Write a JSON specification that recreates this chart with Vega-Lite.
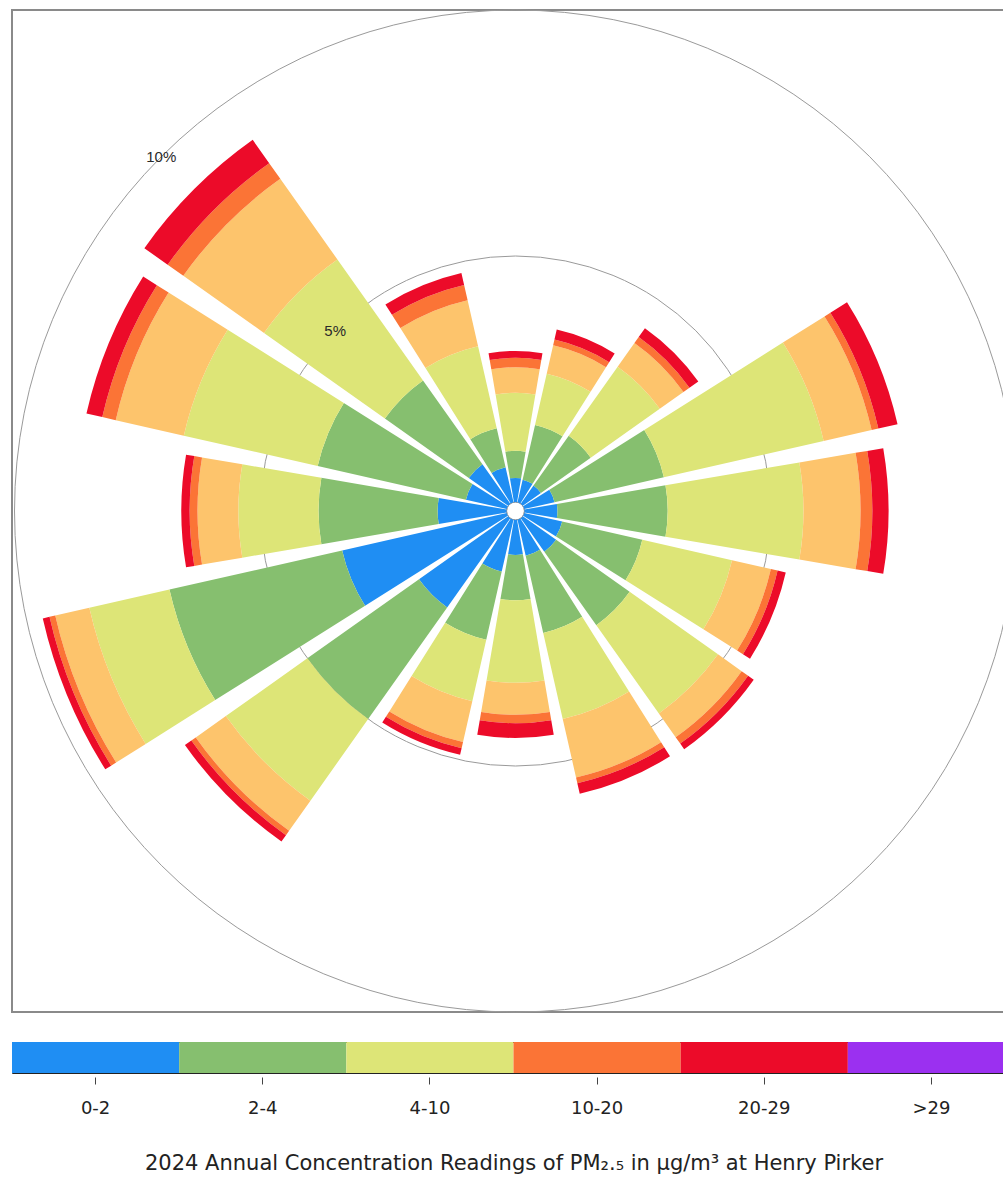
{
  "$schema": "https://vega.github.io/schema/vega-lite/v6.json",
  "padding": {"left": 11, "top": 7, "right": 0, "bottom": 0},
  "background": "white",
  "config": {"font": "Liberation Sans", "view": {"stroke": null}},
  "resolve": {"scale": {"color": "independent"}},
  "spacing": 26,
  "datasets": {
    "rose": [
      {"dir": "N", "deg": 0, "band": "0-2", "pct": 0.49}, {"dir": "N", "deg": 0, "band": "2-4", "pct": 0.55}, {"dir": "N", "deg": 0, "band": "4-10", "pct": 1.18}, {"dir": "N", "deg": 0, "band": "10-20", "pct": 0.52}, {"dir": "N", "deg": 0, "band": "20-29", "pct": 0.19}, {"dir": "N", "deg": 0, "band": ">29", "pct": 0.14},
      {"dir": "NNE", "deg": 22.5, "band": "0-2", "pct": 0.47}, {"dir": "NNE", "deg": 22.5, "band": "2-4", "pct": 1.14}, {"dir": "NNE", "deg": 22.5, "band": "4-10", "pct": 1.07}, {"dir": "NNE", "deg": 22.5, "band": "10-20", "pct": 0.59}, {"dir": "NNE", "deg": 22.5, "band": "20-29", "pct": 0.12}, {"dir": "NNE", "deg": 22.5, "band": ">29", "pct": 0.21},
      {"dir": "NE", "deg": 45, "band": "0-2", "pct": 0.45}, {"dir": "NE", "deg": 45, "band": "2-4", "pct": 1.24}, {"dir": "NE", "deg": 45, "band": "4-10", "pct": 1.72}, {"dir": "NE", "deg": 45, "band": "10-20", "pct": 0.59}, {"dir": "NE", "deg": 45, "band": "20-29", "pct": 0.15}, {"dir": "NE", "deg": 45, "band": ">29", "pct": 0.22},
      {"dir": "ENE", "deg": 67.5, "band": "0-2", "pct": 0.63}, {"dir": "ENE", "deg": 67.5, "band": "2-4", "pct": 2.28}, {"dir": "ENE", "deg": 67.5, "band": "4-10", "pct": 3.33}, {"dir": "ENE", "deg": 67.5, "band": "10-20", "pct": 1.00}, {"dir": "ENE", "deg": 67.5, "band": "20-29", "pct": 0.14}, {"dir": "ENE", "deg": 67.5, "band": ">29", "pct": 0.40},
      {"dir": "E", "deg": 90, "band": "0-2", "pct": 0.67}, {"dir": "E", "deg": 90, "band": "2-4", "pct": 2.24}, {"dir": "E", "deg": 90, "band": "4-10", "pct": 2.76}, {"dir": "E", "deg": 90, "band": "10-20", "pct": 1.16}, {"dir": "E", "deg": 90, "band": "20-29", "pct": 0.24}, {"dir": "E", "deg": 90, "band": ">29", "pct": 0.33},
      {"dir": "ESE", "deg": 112.5, "band": "0-2", "pct": 0.79}, {"dir": "ESE", "deg": 112.5, "band": "2-4", "pct": 1.67}, {"dir": "ESE", "deg": 112.5, "band": "4-10", "pct": 1.87}, {"dir": "ESE", "deg": 112.5, "band": "10-20", "pct": 0.81}, {"dir": "ESE", "deg": 112.5, "band": "20-29", "pct": 0.14}, {"dir": "ESE", "deg": 112.5, "band": ">29", "pct": 0.17},
      {"dir": "SE", "deg": 135, "band": "0-2", "pct": 0.83}, {"dir": "SE", "deg": 135, "band": "2-4", "pct": 1.83}, {"dir": "SE", "deg": 135, "band": "4-10", "pct": 2.20}, {"dir": "SE", "deg": 135, "band": "10-20", "pct": 0.59}, {"dir": "SE", "deg": 135, "band": "20-29", "pct": 0.16}, {"dir": "SE", "deg": 135, "band": ">29", "pct": 0.14},
      {"dir": "SSE", "deg": 157.5, "band": "0-2", "pct": 0.75}, {"dir": "SSE", "deg": 157.5, "band": "2-4", "pct": 1.61}, {"dir": "SSE", "deg": 157.5, "band": "4-10", "pct": 1.79}, {"dir": "SSE", "deg": 157.5, "band": "10-20", "pct": 1.22}, {"dir": "SSE", "deg": 157.5, "band": "20-29", "pct": 0.12}, {"dir": "SSE", "deg": 157.5, "band": ">29", "pct": 0.22},
      {"dir": "S", "deg": 180, "band": "0-2", "pct": 0.71}, {"dir": "S", "deg": 180, "band": "2-4", "pct": 0.92}, {"dir": "S", "deg": 180, "band": "4-10", "pct": 1.68}, {"dir": "S", "deg": 180, "band": "10-20", "pct": 0.65}, {"dir": "S", "deg": 180, "band": "20-29", "pct": 0.17}, {"dir": "S", "deg": 180, "band": ">29", "pct": 0.30},
      {"dir": "SSW", "deg": 202.5, "band": "0-2", "pct": 1.08}, {"dir": "SSW", "deg": 202.5, "band": "2-4", "pct": 1.42}, {"dir": "SSW", "deg": 202.5, "band": "4-10", "pct": 1.28}, {"dir": "SSW", "deg": 202.5, "band": "10-20", "pct": 0.85}, {"dir": "SSW", "deg": 202.5, "band": "20-29", "pct": 0.13}, {"dir": "SSW", "deg": 202.5, "band": ">29", "pct": 0.14},
      {"dir": "SW", "deg": 225, "band": "0-2", "pct": 2.22}, {"dir": "SW", "deg": 225, "band": "2-4", "pct": 2.78}, {"dir": "SW", "deg": 225, "band": "4-10", "pct": 2.03}, {"dir": "SW", "deg": 225, "band": "10-20", "pct": 0.75}, {"dir": "SW", "deg": 225, "band": "20-29", "pct": 0.11}, {"dir": "SW", "deg": 225, "band": ">29", "pct": 0.16},
      {"dir": "WSW", "deg": 247.5, "band": "0-2", "pct": 3.43}, {"dir": "WSW", "deg": 247.5, "band": "2-4", "pct": 3.60}, {"dir": "WSW", "deg": 247.5, "band": "4-10", "pct": 1.67}, {"dir": "WSW", "deg": 247.5, "band": "10-20", "pct": 0.71}, {"dir": "WSW", "deg": 247.5, "band": "20-29", "pct": 0.12}, {"dir": "WSW", "deg": 247.5, "band": ">29", "pct": 0.14},
      {"dir": "W", "deg": 270, "band": "0-2", "pct": 1.40}, {"dir": "W", "deg": 270, "band": "2-4", "pct": 2.42}, {"dir": "W", "deg": 270, "band": "4-10", "pct": 1.63}, {"dir": "W", "deg": 270, "band": "10-20", "pct": 0.83}, {"dir": "W", "deg": 270, "band": "20-29", "pct": 0.16}, {"dir": "W", "deg": 270, "band": ">29", "pct": 0.17},
      {"dir": "WNW", "deg": 292.5, "band": "0-2", "pct": 0.85}, {"dir": "WNW", "deg": 292.5, "band": "2-4", "pct": 3.09}, {"dir": "WNW", "deg": 292.5, "band": "4-10", "pct": 2.79}, {"dir": "WNW", "deg": 292.5, "band": "10-20", "pct": 1.42}, {"dir": "WNW", "deg": 292.5, "band": "20-29", "pct": 0.28}, {"dir": "WNW", "deg": 292.5, "band": ">29", "pct": 0.33},
      {"dir": "NW", "deg": 315, "band": "0-2", "pct": 0.98}, {"dir": "NW", "deg": 315, "band": "2-4", "pct": 2.09}, {"dir": "NW", "deg": 315, "band": "4-10", "pct": 3.01}, {"dir": "NW", "deg": 315, "band": "10-20", "pct": 2.01}, {"dir": "NW", "deg": 315, "band": "20-29", "pct": 0.39}, {"dir": "NW", "deg": 315, "band": ">29", "pct": 0.58},
      {"dir": "NNW", "deg": 337.5, "band": "0-2", "pct": 0.73}, {"dir": "NNW", "deg": 337.5, "band": "2-4", "pct": 0.81}, {"dir": "NNW", "deg": 337.5, "band": "4-10", "pct": 1.71}, {"dir": "NNW", "deg": 337.5, "band": "10-20", "pct": 0.96}, {"dir": "NNW", "deg": 337.5, "band": "20-29", "pct": 0.32}, {"dir": "NNW", "deg": 337.5, "band": ">29", "pct": 0.25}
    ],
    "rings": [{"pct": 5, "label": "5%"}, {"pct": 10, "label": "10%"}],
    "legend": [{"bin": "0-2"}, {"bin": "2-4"}, {"bin": "4-10"}, {"bin": "10-20"}, {"bin": "20-29"}, {"bin": ">29"}]
  },
  "vconcat": [
    {
      "width": 1007,
      "height": 1002,
      "view": {"stroke": "#8a8a8a", "strokeWidth": 2},
      "layer": [
        {
          "data": {"name": "rings"},
          "mark": {"type": "arc", "fill": null, "stroke": "#9a9a9a", "strokeWidth": 1, "theta": 0, "theta2": 6.2832},
          "encoding": {
            "radius": {"field": "pct", "type": "quantitative", "stack": null, "scale": {"type": "linear", "domain": [0, 10], "range": [9, 501]}}
          }
        },
        {
          "data": {"name": "rose"},
          "transform": [
            {"calculate": "indexof(['0-2','2-4','4-10','10-20','20-29','>29'], datum.band)", "as": "ord"},
            {"stack": "pct", "groupby": ["dir"], "sort": [{"field": "ord", "order": "ascending"}], "as": ["lo", "hi"]},
            {"calculate": "datum.deg - 9.7", "as": "a0"},
            {"calculate": "datum.deg + 9.7", "as": "a1"}
          ],
          "mark": {"type": "arc"},
          "encoding": {
            "theta": {"field": "a0", "type": "quantitative", "stack": null, "scale": {"domain": [0, 360], "range": [0, 6.283185307]}},
            "theta2": {"field": "a1"},
            "radius": {"field": "hi", "type": "quantitative", "stack": null, "scale": {"type": "linear", "domain": [0, 10], "range": [9, 501]}},
            "radius2": {"field": "lo"},
            "color": {"field": "band", "type": "nominal", "scale": {"domain": ["0-2", "2-4", "4-10", "10-20", "20-29", ">29"], "range": ["#1F8EF3", "#86BF6F", "#DDE577", "#FDC46C", "#FB7436", "#EC0B29"]}, "legend": null}
          }
        },
        {
          "data": {"name": "rings"},
          "mark": {"type": "text", "fontSize": 15, "color": "#2a2a2a"},
          "encoding": {
            "theta": {"datum": 315, "type": "quantitative"},
            "radius": {"field": "pct", "type": "quantitative", "stack": null},
            "text": {"field": "label"}
          }
        }
      ]
    },
    {
      "width": 1003,
      "height": 31,
      "view": {"stroke": "#222", "strokeWidth": 1},
      "data": {"name": "legend"},
      "mark": {"type": "rect"},
      "encoding": {
        "x": {
          "field": "bin", "type": "ordinal", "sort": null,
          "scale": {"paddingInner": 0, "paddingOuter": 0},
          "axis": {
            "title": "2024 Annual Concentration Readings of PM₂.₅ in μg/m³ at Henry Pirker",
            "domain": false, "ticks": true, "tickColor": "#444", "tickSize": 7, "offset": 4,
            "labelAngle": 0, "labelFont": "DejaVu Sans", "labelFontSize": 18, "labelColor": "#222", "labelPadding": 15,
            "titleFont": "DejaVu Sans", "titleFontSize": 21, "titleFontWeight": "normal", "titleColor": "#222", "titlePadding": 35
          }
        },
        "color": {"field": "bin", "type": "nominal", "sort": null, "scale": {"domain": ["0-2", "2-4", "4-10", "10-20", "20-29", ">29"], "range": ["#1F8EF3", "#86BF6F", "#DDE577", "#FB7436", "#EC0B29", "#9B30F0"]}, "legend": null}
      }
    }
  ]
}
